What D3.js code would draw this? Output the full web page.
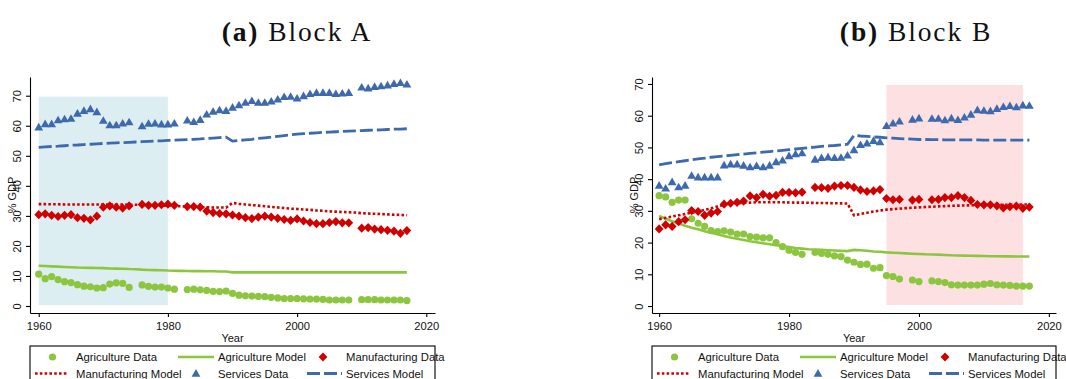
<!DOCTYPE html>
<html>
<head>
<meta charset="utf-8">
<script src="https://cdn.jsdelivr.net/npm/d3@7"></script>
<style>
  html, body { margin: 0; padding: 0; background: #fff; }
  svg { display: block; }
</style>
</head>
<body>
<svg id="chart" width="1066" height="379"></svg>
<script>
// ---------- data ----------
const years = d3.range(1960, 2018);
const xTicks = [1960, 1980, 2000, 2020];
const yTicks = [0, 10, 20, 30, 40, 50, 60, 70];
const seriesNames = ["Agriculture Data", "Agriculture Model", "Manufacturing Data",
                     "Manufacturing Model", "Services Data", "Services Model"];

// Block A (null = year without observation)
const agriDataA = [10.6, 9.1, 9.8, 8.8, 8.1, 7.8, 7.1, 6.6, 6.4, 6.0,
  6.1, 7.3, 7.7, 7.5, 6.2, null, 7.0, 6.5, 6.3, 6.3,
  6.0, 5.6, null, 5.5, 5.6, 5.4, 5.2, 4.9, 4.8, 5.0,
  4.2, 3.6, 3.4, 3.3, 3.2, 3.1, 2.9, 2.7, 2.5, 2.5,
  2.5, 2.4, 2.3, 2.3, 2.2, 2.0, 2.0, 2.0, 2.0, null,
  2.1, 2.1, 2.1, 2.0, 2.0, 2.0, 2.0, 1.8];
const agriModelA = [13.4, 13.3, 13.2, 13.1, 13.0, 12.9, 12.8, 12.75, 12.7, 12.65,
  12.6, 12.5, 12.45, 12.4, 12.3, 12.25, 12.1, 12.0, 11.95, 11.9,
  11.8, 11.75, 11.7, 11.65, 11.6, 11.6, 11.55, 11.55, 11.5, 11.5,
  11.2, 11.2, 11.2, 11.2, 11.2, 11.2, 11.2, 11.2, 11.2, 11.2,
  11.2, 11.2, 11.2, 11.2, 11.2, 11.2, 11.2, 11.2, 11.2, 11.2,
  11.2, 11.2, 11.2, 11.2, 11.2, 11.2, 11.2, 11.2];
const manuDataA = [30.4, 30.7, 30.2, 29.8, 30.2, 30.4, 29.4, 29.2, 28.7, 29.9,
  32.9, 33.3, 32.9, 32.6, 33.3, null, 33.8, 33.5, 33.5, 33.7,
  33.9, 33.5, null, 33.1, 33.1, 32.9, 31.6, 31.1, 30.8, 30.7,
  30.3, 29.9, 29.4, 29.1, 29.6, 29.9, 29.6, 29.2, 28.8, 28.5,
  29.0, 28.3, 27.8, 27.4, 27.4, 27.8, 28.1, 27.7, 27.7, null,
  25.9, 26.1, 25.6, 25.4, 25.2, 24.9, 24.2, 25.1];
const manuModelA = [33.9, 33.9, 33.85, 33.85, 33.8, 33.8, 33.8, 33.8, 33.8, 33.8,
  33.8, 33.8, 33.75, 33.75, 33.7, 33.7, 33.65, 33.6, 33.55, 33.5,
  33.4, 33.3, 33.2, 33.1, 33.0, 32.9, 32.85, 32.8, 32.8, 32.75,
  34.3, 34.0, 33.8, 33.6, 33.4, 33.2, 33.0, 32.8, 32.6, 32.4,
  32.3, 32.1, 32.0, 31.8, 31.7, 31.5, 31.4, 31.3, 31.2, 31.1,
  30.9, 30.8, 30.7, 30.6, 30.5, 30.4, 30.3, 30.2];
const servDataA = [59.5, 60.6, 60.6, 61.9, 62.2, 62.4, 64.1, 65.0, 65.6, 64.6,
  61.7, 60.2, 60.2, 60.8, 61.2, null, 59.9, 60.7, 60.8, 60.5,
  60.5, 60.8, null, 61.8, 61.3, 62.0, 63.8, 64.7, 65.2, 65.0,
  66.1, 66.9, 67.7, 68.3, 67.7, 67.7, 68.1, 68.8, 69.6, 69.7,
  69.1, 69.9, 70.6, 71.0, 71.0, 71.0, 70.6, 70.8, 71.0, null,
  72.8, 72.5, 73.0, 73.2, 73.5, 74.0, 74.3, 73.8];
const servModelA = [52.8, 52.95, 53.1, 53.2, 53.35, 53.5, 53.6, 53.75, 53.85, 54.0,
  54.1, 54.2, 54.3, 54.4, 54.5, 54.6, 54.7, 54.8, 54.9, 55.0,
  55.1, 55.2, 55.3, 55.4, 55.5, 55.6, 55.75, 55.9, 56.05, 56.2,
  54.9, 55.1, 55.3, 55.5, 55.8, 56.0, 56.2, 56.5, 56.75, 57.0,
  57.2, 57.35, 57.5, 57.65, 57.8, 57.9, 58.0, 58.1, 58.2, 58.3,
  58.4, 58.5, 58.55, 58.65, 58.75, 58.85, 58.9, 59.0];
const shadeYearsA = [1960, 1980];

// Block B
const agriDataB = [34.8, 34.4, 32.7, 33.4, 33.4, 27.5, 26.1, 25.1, 23.8, 23.5,
  23.7, 23.3, 22.7, 22.7, 21.9, 21.7, 21.5, 21.5, 20.0, 18.7,
  17.6, 16.9, 16.3, null, 16.9, 16.6, 16.3, 15.8, 15.6, 14.5,
  13.8, 13.1, 13.2, 11.9, 12.1, 9.6, 9.3, 8.5, null, 8.2,
  7.7, null, 7.9, 7.7, 7.4, 6.7, 6.6, 6.6, 6.6, 6.6,
  6.9, 7.1, 6.7, 6.6, 6.5, 6.3, 6.3, 6.3];
const agriModelB = [28.4, 27.5, 26.7, 26.0, 25.3, 24.7, 24.2, 23.6, 23.1, 22.6,
  22.1, 21.6, 21.2, 20.8, 20.4, 20.1, 19.8, 19.5, 19.2, 18.9,
  18.6, 18.3, 18.1, 17.9, 17.8, 17.7, 17.6, 17.5, 17.4, 17.3,
  17.7, 17.6, 17.4, 17.2, 17.1, 16.9, 16.8, 16.7, 16.6, 16.5,
  16.4, 16.3, 16.25, 16.2, 16.1, 16.0, 15.95, 15.9, 15.85, 15.8,
  15.75, 15.7, 15.7, 15.65, 15.65, 15.6, 15.6, 15.6];
const manuDataB = [24.3, 25.6, 25.1, 26.6, 27.2, 30.1, 29.8, 28.6, 29.3, 29.8,
  32.1, 32.4, 32.7, 33.1, 34.7, 34.2, 35.2, 34.6, 34.9, 35.8,
  35.8, 35.7, 35.9, null, 37.4, 37.3, 37.1, 37.8, 38.0, 38.0,
  37.4, 36.6, 36.1, 36.3, 36.7, 33.9, 33.5, 33.6, null, 33.4,
  33.6, null, 33.5, 33.6, 34.2, 34.2, 34.8, 34.2, 33.3, 32.0,
  31.9, 31.9, 31.6, 30.9, 31.3, 31.5, 30.8, 31.2];
const manuModelB = [27.4, 27.8, 28.2, 28.6, 29.0, 29.4, 29.8, 30.3, 30.8, 31.4,
  31.9, 32.2, 32.4, 32.5, 32.6, 32.7, 32.7, 32.7, 32.7, 32.7,
  32.65, 32.6, 32.6, 32.55, 32.5, 32.5, 32.45, 32.4, 32.35, 32.3,
  28.6, 29.0, 29.4, 29.8, 30.1, 30.4, 30.55, 30.7, 30.85, 31.0,
  31.1, 31.2, 31.3, 31.4, 31.5, 31.6, 31.65, 31.7, 31.75, 31.8,
  31.85, 31.9, 31.9, 31.95, 31.95, 32.0, 32.0, 32.0];
const servDataB = [38.0, 37.1, 39.1, 37.5, 38.0, 41.1, 40.6, 40.6, 40.6, 40.6,
  44.4, 44.7, 44.7, 44.3, 43.8, 44.2, 43.8, 44.3, 45.4, 45.9,
  47.3, 47.9, 48.2, null, 46.2, 46.7, 46.9, 46.7, 46.8, 47.5,
  49.2, 50.8, 51.3, 52.1, 51.7, 56.8, 57.6, 58.2, null, 58.8,
  59.2, null, 59.1, 59.1, 58.6, 59.2, 58.7, 59.5, 60.4, 61.8,
  61.6, 61.5, 62.2, 62.8, 63.1, 62.7, 63.3, 63.2];
const servModelB = [44.5, 44.9, 45.2, 45.5, 45.8, 46.1, 46.4, 46.6, 46.9, 47.1,
  47.3, 47.5, 47.7, 47.9, 48.1, 48.3, 48.5, 48.7, 48.9, 49.1,
  49.3, 49.5, 49.7, 49.9, 50.1, 50.3, 50.5, 50.6, 50.8, 51.0,
  53.8, 53.6, 53.5, 53.3, 53.2, 53.0, 52.9, 52.8, 52.7, 52.6,
  52.5, 52.5, 52.45, 52.45, 52.4, 52.4, 52.4, 52.35, 52.35, 52.35,
  52.3, 52.3, 52.3, 52.3, 52.3, 52.3, 52.3, 52.3];
const shadeYearsB = [1995, 2016];

const shadeBand = [0.3, 69.7];

// ---------- style ----------
const GREEN = "#8cc63f";
const RED = "#d00000";
const BLUE = "#3d69ad";
const SANS = "'Liberation Sans', Arial, Helvetica, sans-serif";
const SERIF = "'Liberation Serif', 'Times New Roman', serif";
const DASH = "13,4";
const DOT = "2.6,2.2";

const diamondPath = "M0,-4.6L4.4,0L0,4.6L-4.4,0Z";
const trianglePath = "M0,-4.4L4.4,3.2L-4.4,3.2Z";

const panels = [
  { tag: "(a)", name: " Block A", titleX: 297,
    left: 30, right: 435, top: 77, bottom: 313,
    xDomain: [1958.65, 2021.35], yDomain: [-2.33, 76.23],
    shadeYears: shadeYearsA, shadeFill: "#ddeef3",
    agriData: agriDataA, agriModel: agriModelA,
    manuData: manuDataA, manuModel: manuModelA,
    servData: servDataA, servModel: servModelA },
  { tag: "(b)", name: " Block B", titleX: 916,
    left: 652, right: 1056, top: 77, bottom: 313,
    xDomain: [1958.9, 2021.1], yDomain: [-2.2, 72.2],
    shadeYears: shadeYearsB, shadeFill: "#fde0e1",
    agriData: agriDataB, agriModel: agriModelB,
    manuData: manuDataB, manuModel: manuModelB,
    servData: servDataB, servModel: servModelB }
];

const svg = d3.select("#chart");

function drawPanel(p) {
  const g = svg.append("g");
  const x = d3.scaleLinear().domain(p.xDomain).range([p.left, p.right]);
  const y = d3.scaleLinear().domain(p.yDomain).range([p.bottom, p.top]);

  // title
  const t = g.append("text")
    .attr("x", p.titleX).attr("y", 41)
    .attr("text-anchor", "middle")
    .attr("font-family", SERIF).attr("font-size", 27.5)
    .attr("letter-spacing", 1.9)
    .attr("fill", "#111");
  t.append("tspan").attr("font-weight", "bold").text(p.tag);
  t.append("tspan").text(p.name);

  // shaded period
  g.append("rect")
    .attr("x", x(p.shadeYears[0]))
    .attr("width", x(p.shadeYears[1]) - x(p.shadeYears[0]))
    .attr("y", y(shadeBand[1]))
    .attr("height", y(shadeBand[0]) - y(shadeBand[1]))
    .attr("fill", p.shadeFill);

  const pts = arr => years.map((yr, i) => ({ yr, v: arr[i] })).filter(d => d.v != null);
  const line = d3.line().x(d => x(d.yr)).y(d => y(d.v));

  // agriculture
  g.append("g").selectAll("circle").data(pts(p.agriData)).join("circle")
    .attr("cx", d => x(d.yr)).attr("cy", d => y(d.v)).attr("r", 3.6)
    .attr("fill", GREEN);
  g.append("path").datum(pts(p.agriModel)).attr("d", line)
    .attr("fill", "none").attr("stroke", GREEN).attr("stroke-width", 2.6);

  // manufacturing
  g.append("g").selectAll("path").data(pts(p.manuData)).join("path")
    .attr("d", diamondPath)
    .attr("transform", d => `translate(${x(d.yr)},${y(d.v)})`)
    .attr("fill", RED);
  g.append("path").datum(pts(p.manuModel)).attr("d", line)
    .attr("fill", "none").attr("stroke", RED).attr("stroke-width", 2.6)
    .attr("stroke-dasharray", DOT);

  // services
  g.append("g").selectAll("path").data(pts(p.servData)).join("path")
    .attr("d", trianglePath)
    .attr("transform", d => `translate(${x(d.yr)},${y(d.v)})`)
    .attr("fill", BLUE);
  g.append("path").datum(pts(p.servModel)).attr("d", line)
    .attr("fill", "none").attr("stroke", BLUE).attr("stroke-width", 2.8)
    .attr("stroke-dasharray", DASH);

  // axes
  const yAxis = g.append("g").attr("transform", `translate(${p.left},0)`)
    .call(d3.axisLeft(y).tickValues(yTicks).tickSize(4).tickSizeOuter(0));
  yAxis.selectAll("text")
    .attr("transform", "rotate(-90)")
    .attr("x", 0).attr("y", -8.7).attr("dy", 0)
    .attr("text-anchor", "middle");
  const xAxis = g.append("g").attr("transform", `translate(0,${p.bottom})`)
    .call(d3.axisBottom(x).tickValues(xTicks).tickFormat(d3.format("d")).tickSize(4).tickSizeOuter(0));
  xAxis.selectAll("text").attr("y", 17).attr("dy", 0);
  [yAxis, xAxis].forEach(a => {
    a.attr("font-family", SANS).attr("font-size", 11.2);
    a.selectAll("text").attr("fill", "#111");
    a.selectAll("line, path").attr("stroke", "#000").attr("stroke-width", 1.1);
  });

  // axis titles
  g.append("text")
    .attr("transform", `translate(${p.left - 14},${(p.top + p.bottom) / 2}) rotate(-90)`)
    .attr("text-anchor", "middle")
    .attr("font-family", SANS).attr("font-size", 11).attr("fill", "#111")
    .text("% GDP");
  g.append("text")
    .attr("x", (p.left + p.right) / 2).attr("y", 341.5)
    .attr("text-anchor", "middle")
    .attr("font-family", SANS).attr("font-size", 11).attr("fill", "#111")
    .text("Year");

  // legend
  const lg = g.append("g").attr("transform", `translate(${p.left},0)`);
  lg.append("rect").attr("x", 0).attr("y", 346)
    .attr("width", p.right - p.left).attr("height", 60)
    .attr("fill", "#fff").attr("stroke", "#000").attr("stroke-width", 1.1);
  const r1 = 357, r2 = 373.5;
  lg.append("circle").attr("cx", 22.5).attr("cy", r1).attr("r", 3.6).attr("fill", GREEN);
  lg.append("line").attr("x1", 148).attr("x2", 184).attr("y1", r1).attr("y2", r1)
    .attr("stroke", GREEN).attr("stroke-width", 2.6);
  lg.append("path").attr("d", diamondPath).attr("transform", `translate(293,${r1})`).attr("fill", RED);
  lg.append("line").attr("x1", 5).attr("x2", 38).attr("y1", r2).attr("y2", r2)
    .attr("stroke", RED).attr("stroke-width", 2.6).attr("stroke-dasharray", DOT);
  lg.append("path").attr("d", trianglePath).attr("transform", `translate(166,${r2})`).attr("fill", BLUE);
  lg.append("line").attr("x1", 277).attr("x2", 312).attr("y1", r2).attr("y2", r2)
    .attr("stroke", BLUE).attr("stroke-width", 2.8).attr("stroke-dasharray", DASH);
  const labelPos = [[46, r1], [188, r1], [316, r1], [46, r2], [188, r2], [316, r2]];
  seriesNames.forEach((s, i) => {
    lg.append("text").attr("x", labelPos[i][0]).attr("y", labelPos[i][1] + 4.3)
      .attr("font-family", SANS).attr("font-size", 11.3).attr("fill", "#111")
      .text(s);
  });
}

panels.forEach(drawPanel);
</script>
</body>
</html>
